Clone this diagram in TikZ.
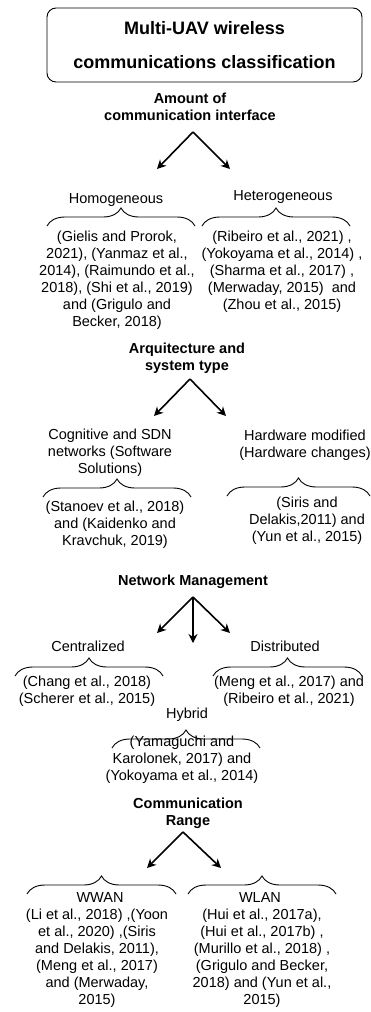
\documentclass[tikz,border=0pt]{standalone}
\usepackage{fontspec}
\setmainfont{Liberation Sans}
\usetikzlibrary{decorations.pathreplacing,arrows.meta}
\begin{document}
\begin{tikzpicture}[x=1pt,y=-1pt,
  txt/.style={inner sep=0pt,align=center,font=\fontsize{14.5}{17}\selectfont},
  hdr/.style={inner sep=0pt,align=center,font=\fontsize{14.5}{17}\selectfont\bfseries},
  arr/.style={line width=1.6pt,-{Stealth[length=9pt,width=9pt]}},
  brc/.style={decorate,decoration={brace,amplitude=18pt},line width=0.9pt}]
\useasboundingbox (0,0) rectangle (371,1012);
% title
\node[draw,line width=0.9pt,rounded corners=9pt,minimum width=315pt,minimum height=74pt,inner sep=0pt,
  align=center,font=\fontsize{18}{34}\selectfont\bfseries] (title) at (204.5,45)
  {Multi-UAV wireless\\communications classification};
% section 1
\node[hdr] (amt) at (190,106.5) {Amount of\\communication interface};
\coordinate (a1) at (193,132);
\coordinate (a1l) at (157,169);
\coordinate (a1r) at (230,169);
\draw[arr] (a1) -- (a1l);
\draw[arr] (a1) -- (a1r);
\node[txt] (homo) at (116,200) {Homogeneous};
\node[txt] (hete) at (283,197) {Heterogeneous};
\coordinate (b1a) at (47,226); \coordinate (b1b) at (195,226);
\coordinate (b2a) at (202,226); \coordinate (b2b) at (350,226);
\draw[brc] (b1a) -- (b1b);
\draw[brc] (b2a) -- (b2b);
\node[txt] (homoc) at (117,280) {(Gielis and Prorok,\\2021), (Yanmaz et al.,\\2014), (Raimundo et al.,\\2018), (Shi et al., 2019)\\and (Grigulo and\\Becker, 2018)};
\node[txt] (hetec) at (282,272) {(Ribeiro et al., 2021) ,\\(Yokoyama et al., 2014) ,\\(Sharma et al., 2017) ,\\(Merwaday, 2015)\ \ and\\(Zhou et al., 2015)};
% section 2
\node[hdr] (arq) at (187,358) {Arquitecture and\\system type};
\coordinate (a2) at (190,379);
\coordinate (a2l) at (154,416);
\coordinate (a2r) at (226,416);
\draw[arr] (a2) -- (a2l);
\draw[arr] (a2) -- (a2r);
\node[txt] (cog) at (110,453) {Cognitive and SDN\\networks (Software\\Solutions)};
\node[txt] (hard) at (305,445) {Hardware modified\\(Hardware changes)};
\coordinate (b3a) at (43,497); \coordinate (b3b) at (191,497);
\coordinate (b4a) at (227,496); \coordinate (b4b) at (370,496);
\draw[brc] (b3a) -- (b3b);
\draw[brc] (b4a) -- (b4b);
\node[txt] (cogc) at (115,525) {(Stanoev et al., 2018)\\and (Kaidenko and\\Kravchuk, 2019)};
\node[txt] (hardc) at (307,521) {(Siris and\\Delakis,2011) and\\(Yun et al., 2015)};
% section 3
\node[hdr] (net) at (193,582) {Network Management};
\coordinate (a3) at (193,597);
\coordinate (a3l) at (157,633);
\coordinate (a3m) at (193,643);
\coordinate (a3r) at (230,633);
\draw[arr] (a3) -- (a3l);
\draw[arr] (a3) -- (a3m);
\draw[arr] (a3) -- (a3r);
\node[txt] (cen) at (88,646) {Centralized};
\node[txt] (dis) at (285,646) {Distributed};
\coordinate (b5a) at (15,676); \coordinate (b5b) at (163,676);
\coordinate (b6a) at (213,676); \coordinate (b6b) at (362,676);
\draw[brc] (b5a) -- (b5b);
\draw[brc] (b6a) -- (b6b);
\node[txt] (cenc) at (87,691.5) {(Chang et al., 2018)\\(Scherer et al., 2015)};
\node[txt] (disc) at (289,691.5) {(Meng et al., 2017) and\\(Ribeiro et al., 2021)};
\node[txt] (hyb) at (187,715) {Hybrid};
\coordinate (b7a) at (112,748); \coordinate (b7b) at (260,748);
\draw[brc] (b7a) -- (b7b);
\node[txt] (hybc) at (182,760) {(Yamaguchi and\\Karolonek, 2017) and\\(Yokoyama et al., 2014)};
% section 4
\node[hdr] (rng) at (188,813.5) {Communication\\Range};
\coordinate (a4) at (183,832);
\coordinate (a4l) at (147,868);
\coordinate (a4r) at (221,868);
\draw[arr] (a4) -- (a4l);
\draw[arr] (a4) -- (a4r);
\coordinate (b8a) at (27,894); \coordinate (b8b) at (176,894);
\coordinate (b9a) at (188,894); \coordinate (b9b) at (336,894);
\draw[brc] (b8a) -- (b8b);
\draw[brc] (b9a) -- (b9b);
\node[txt] (wwan) at (100,897) {WWAN};
\node[txt] (wlan) at (260,897) {WLAN};
\node[txt] (wwanc) at (97,958.5) {(Li et al., 2018) ,(Yoon\\et al., 2020) ,(Siris\\and Delakis, 2011),\\(Meng et al., 2017)\\and (Merwaday,\\2015)};
\node[txt] (wlanc) at (262,958.5) {(Hui et al., 2017a),\\(Hui et al., 2017b) ,\\(Murillo et al., 2018) ,\\(Grigulo and Becker,\\2018) and (Yun et al.,\\2015)};
\end{tikzpicture}
\end{document}
